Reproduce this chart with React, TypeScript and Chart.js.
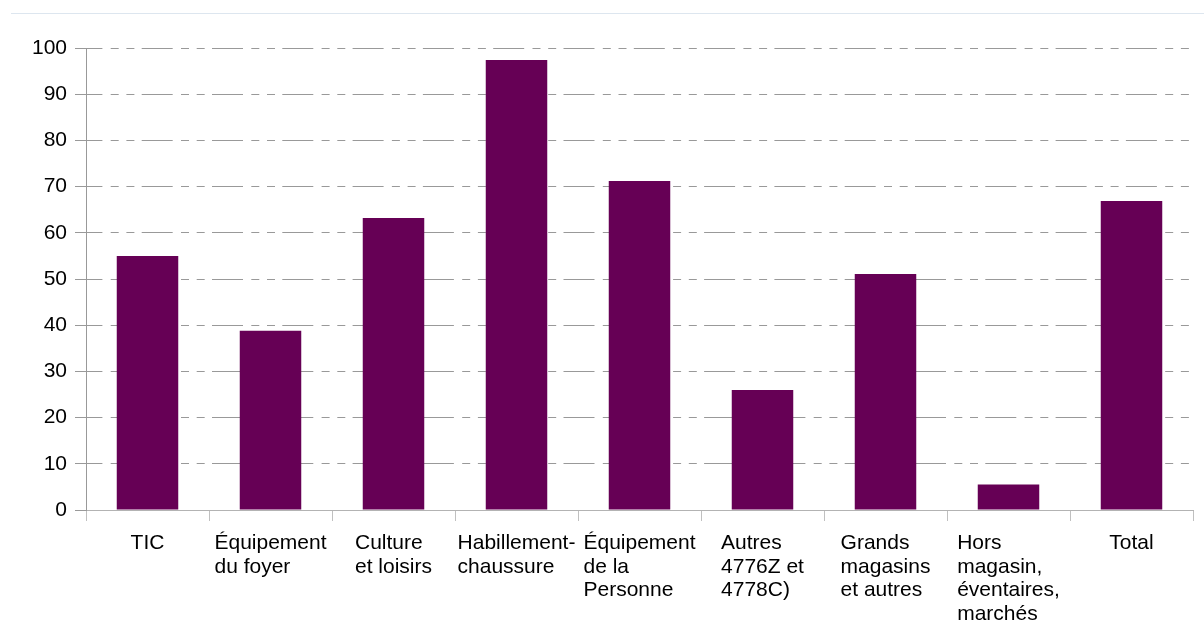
import React, { useEffect, useRef } from 'react';
import { Chart, registerables } from 'chart.js';

Chart.register(...registerables);

// ---- Data ----
const categories: string[][] = [
  ['TIC'],
  ['Équipement', 'du foyer'],
  ['Culture', 'et loisirs'],
  ['Habillement-', 'chaussure'],
  ['Équipement', 'de la', 'Personne'],
  ['Autres', '4776Z et', '4778C)'],
  ['Grands', 'magasins', 'et autres'],
  ['Hors', 'magasin,', 'éventaires,', 'marchés'],
  ['Total'],
];
const values: number[] = [55.0, 38.8, 63.2, 97.4, 71.2, 26.0, 51.1, 5.5, 66.9];
const yMin = 0;
const yMax = 100;
const yStep = 10;

const FONT_FAMILY = '"Liberation Sans", Arial, Helvetica, sans-serif';
const FONT_SIZE = 21;
const BAR_COLOR = '#660055';
const GRID_COLOR = '#999999';
const AXIS_COLOR = '#b3b3b3';

// Draw multi-line category labels as a centered block with left-aligned lines
const xLabelPlugin = {
  id: 'xBlockLabels',
  afterDraw(chart: any) {
    const ctx = chart.ctx as CanvasRenderingContext2D;
    const xs = chart.scales.x;
    ctx.save();
    ctx.font = `${FONT_SIZE}px ${FONT_FAMILY}`;
    ctx.fillStyle = '#000000';
    ctx.textAlign = 'left';
    ctx.textBaseline = 'alphabetic';
    const firstBaseline = xs.top + 39.3;
    const lineGap = 23.4;
    categories.forEach((lines, i) => {
      const w = Math.max(...lines.map((l) => ctx.measureText(l).width));
      const cx = xs.getPixelForValue(i);
      lines.forEach((l, j) => {
        ctx.fillText(l, cx - w / 2, firstBaseline + j * lineGap);
      });
    });
    ctx.restore();
  },
};

export default function App() {
  const canvasRef = useRef<HTMLCanvasElement | null>(null);

  useEffect(() => {
    if (!canvasRef.current) return;
    const chart = new Chart(canvasRef.current, {
      type: 'bar',
      data: {
        labels: categories as any,
        datasets: [
          {
            data: values,
            backgroundColor: BAR_COLOR,
            borderWidth: 0,
            barPercentage: 0.5,
            categoryPercentage: 1,
          },
        ],
      },
      options: {
        animation: false,
        responsive: false,
        maintainAspectRatio: false,
        layout: { padding: { top: 48, right: 11, left: 0, bottom: 0 } },
        plugins: {
          legend: { display: false },
          tooltip: { enabled: false },
        },
        scales: {
          x: {
            grid: {
              offset: true,
              drawOnChartArea: false,
              drawTicks: true,
              tickLength: 11,
              color: '#c0c0c0',
              tickColor: '#c0c0c0',
            },
            border: { display: true, color: AXIS_COLOR, width: 1 },
            ticks: {
              color: 'rgba(0,0,0,0)',
              font: { family: FONT_FAMILY, size: FONT_SIZE },
              maxRotation: 0,
              minRotation: 0,
              autoSkip: false,
            },
            afterFit: (s: any) => {
              s.height = 129;
            },
          },
          y: {
            min: yMin,
            max: yMax,
            ticks: {
              stepSize: yStep,
              color: '#000000',
              padding: 8,
              font: { family: FONT_FAMILY, size: FONT_SIZE },
            },
            grid: {
              color: (c: any) => (c.tick && c.tick.value === 0 ? 'rgba(0,0,0,0)' : GRID_COLOR),
              tickColor: GRID_COLOR,
              tickLength: 11,
              drawTicks: true,
              tickBorderDash: [],
            },
            border: {
              display: true,
              color: GRID_COLOR,
              width: 1,
              dash: [31, 8.3, 8, 7.7, 8, 7.3],
              dashOffset: 15.6,
            },
            afterFit: (s: any) => {
              s.width = 86;
            },
          },
        },
      } as any,
      plugins: [xLabelPlugin],
    });
    return () => chart.destroy();
  }, []);

  return (
    <div
      style={{
        position: 'fixed',
        left: 0,
        top: 0,
        width: 1204,
        height: 639,
        background: '#ffffff',
      }}
    >
      <div
        style={{
          position: 'absolute',
          top: 13,
          left: 11,
          right: 0,
          height: 1,
          background: '#dde6ef',
        }}
      />
      <canvas
        ref={canvasRef}
        width={1204}
        height={639}
        style={{ position: 'absolute', left: 0, top: 0, width: 1204, height: 639 }}
      />
    </div>
  );
}
